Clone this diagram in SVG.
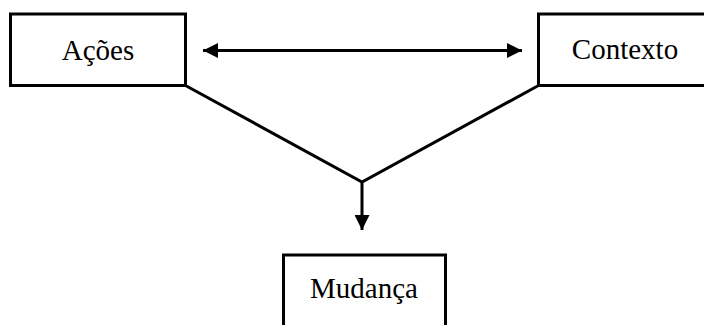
<svg xmlns="http://www.w3.org/2000/svg" width="704" height="325" viewBox="0 0 704 325">
<defs>
<style>
.box{fill:#fff;stroke:#000;stroke-width:3}
.lbl{font-family:"Liberation Serif","Times New Roman",serif;font-size:29px;fill:#000;text-anchor:middle}
.ln{fill:none;stroke:#000;stroke-width:3}
</style>
<marker id="ah" viewBox="0 0 15 15" refX="15" refY="7.5" markerWidth="15" markerHeight="15" markerUnits="userSpaceOnUse" orient="auto-start-reverse">
<path d="M0,0 L15,7.5 L0,15 Z" fill="#000"/>
</marker>
</defs>
<rect width="704" height="325" fill="#fff"/>
<g id="connectors">
<line class="ln" x1="203" y1="50.5" x2="522" y2="50.5" marker-start="url(#ah)" marker-end="url(#ah)"/>
<polyline class="ln" points="185.5,85.5 362,182 538.5,85.5"/>
<line class="ln" x1="362" y1="182" x2="362" y2="230" marker-end="url(#ah)"/>
</g>
<g id="acoes">
<rect class="box" x="10.5" y="14" width="175" height="71.5"/>
<text class="lbl" x="98" y="60">Ações</text>
</g>
<g id="contexto">
<rect class="box" x="538.5" y="14" width="180" height="71.5"/>
<text class="lbl" x="625" y="59">Contexto</text>
</g>
<g id="mudanca">
<rect class="box" x="283.5" y="255" width="162" height="80"/>
<text class="lbl" x="364" y="298">Mudança</text>
</g>
</svg>
